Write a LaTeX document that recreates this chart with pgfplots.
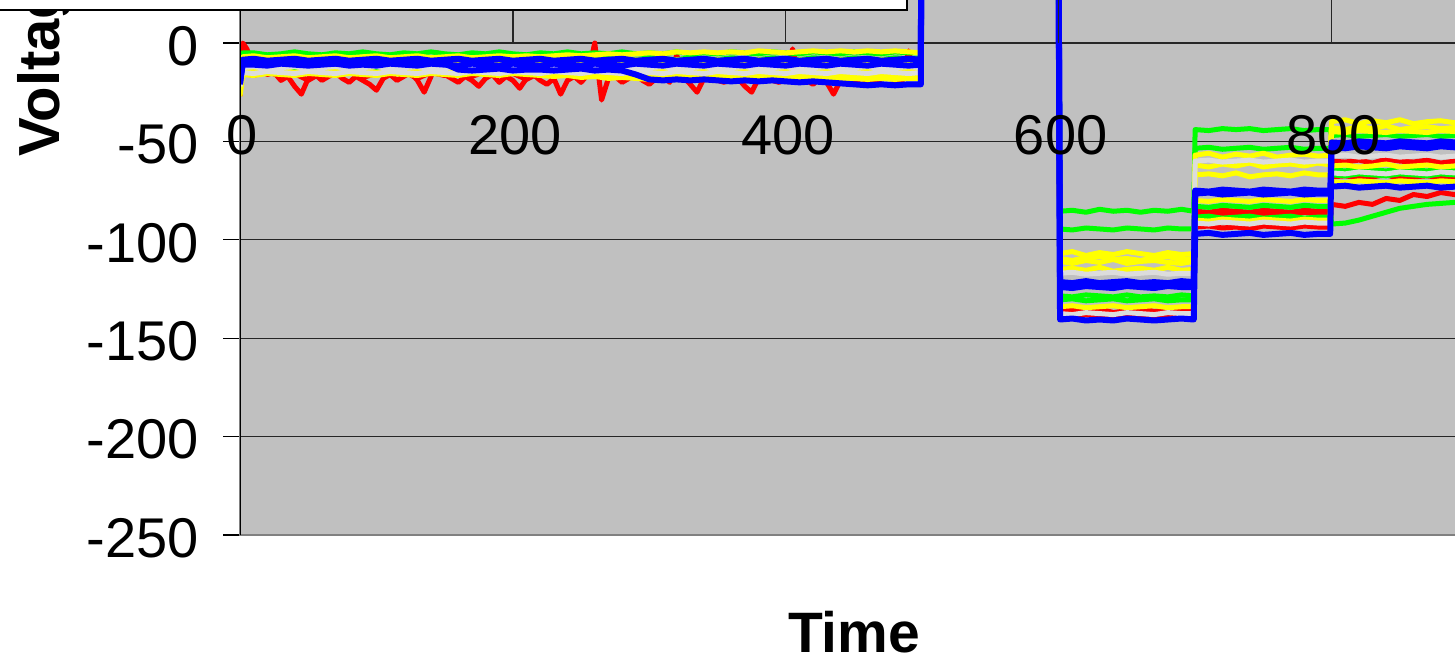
\documentclass[border=0pt]{standalone}
\usepackage{pgfplots}
\usepackage{pgfplotstable}
\pgfplotsset{compat=1.18}
\usepackage{fontspec}
\setmainfont{Liberation Sans}
\definecolor{bgGray}{HTML}{C0C0C0}
\definecolor{cR}{HTML}{FF0000}
\definecolor{cG}{HTML}{00FF00}
\definecolor{cY}{HTML}{FFFF00}
\definecolor{cB}{HTML}{0000FF}
\definecolor{cW}{HTML}{DCDCDC}
\pgfplotsset{
  common/.style={
    at={(240pt,121pt)}, anchor=south west,
    scale only axis, width=1228pt, height=984pt,
    xmin=0, xmax=900, ymin=-250, ymax=250,
    xtick={0,200,400,600,800},
    /pgf/number format/assume math mode=true,
    tick label style={font=\fontsize{56}{56}\selectfont, inner sep=0pt},
  }
}
\pgfplotstableread{
t R2 R3 G1 G2 G3 G4 Y1 Y2 Y3 Y4 Y5 W1 W2 B1 B2 B3
0 -22 -20 -14 -16 -18 -20 -24 -26 -22 -27 -20 -18 -22 -21 -19 -20
2 -15 -13 -5 -8 -12 -10 -7 -14 -12 -16 -9 -12.5 -15 -10 -11 -8.5
10 -16.5 -12.5 -5 -7.5 -12.5 -10.5 -6.5 -13.5 -12 -16.5 -9.5 -12 -15.5 -10.5 -11 -8
20 -14.5 -13.5 -6 -8.5 -11.5 -9.5 -7.5 -14.5 -12.5 -15.5 -8.5 -13 -14.5 -9.5 -11.5 -9
30 -17 -13 -5.5 -7.5 -12 -10 -7 -13.5 -11.5 -16 -9 -12.5 -15 -10 -10.5 -8.5
40 -15.5 -12 -4.5 -8 -12.5 -10.5 -6.5 -15 -12 -16.5 -9.5 -12 -15.5 -10.5 -11 -8
50 -19 -13.5 -5.5 -8.5 -11.5 -9.5 -7.5 -14 -12.5 -15.5 -8.5 -13 -14.5 -9.5 -11.5 -9
60 -15 -13 -6 -7.5 -12 -10 -7 -13.5 -12 -16 -9 -12.5 -15 -10 -11 -8.5
70 -16.5 -12.5 -5 -8 -12.5 -10.5 -6.5 -14.5 -11.5 -16.5 -9.5 -12 -15.5 -10.5 -10.5 -8
80 -14.5 -13.5 -5.5 -8.5 -11.5 -9.5 -7.5 -14 -12.5 -15.5 -8.5 -13 -14.5 -9.5 -11.5 -9
90 -17.5 -13 -4.5 -7.5 -12 -10 -7 -13.5 -12 -16 -9 -12.5 -15 -10 -11 -8.5
100 -15.5 -12 -5.5 -8 -12.5 -10.5 -6.5 -15 -11.5 -16.5 -9.5 -12 -15.5 -10.5 -11.5 -8
110 -16 -13.5 -6 -8.5 -11.5 -9.5 -7.5 -14 -12.5 -15.5 -8.5 -13 -14.5 -10 -10.5 -9
120 -14.5 -13 -5 -7.5 -12 -10 -7 -13.5 -12 -16 -9 -12.5 -15 -9.5 -11 -8.5
130 -18 -12.5 -5.5 -8 -12.5 -10.5 -6.5 -14.5 -11.5 -16.5 -9.5 -12 -15.5 -10.5 -11.5 -8
140 -15 -13.5 -4.5 -8.5 -11.5 -9.5 -7.5 -14 -12.5 -15.5 -8.5 -13 -14.5 -10 -10.5 -9
150 -16.5 -13 -5.5 -7.5 -12 -10 -7 -13.5 -12 -16 -9 -12.5 -15 -10.5 -11 -8.5
160 -15 -12 -6 -8 -12.5 -10.5 -6.5 -15 -11.5 -16.5 -9.5 -12 -15.5 -13.5 -11.5 -8
170 -17 -13.5 -5 -8.5 -11.5 -9.5 -7.5 -14 -12.5 -15.5 -8.5 -13 -14.5 -14 -10.5 -9
180 -14.5 -13 -5.5 -7.5 -12 -10 -7 -13.5 -12 -16 -9 -12.5 -15 -13.5 -11 -8.5
190 -16 -12.5 -4.5 -8 -12.5 -10.5 -6.5 -14.5 -11.5 -16.5 -9.5 -12 -15.5 -13 -11.5 -8
200 -15.5 -13.5 -5.5 -8.5 -11.5 -9.5 -7 -14 -12.5 -15.5 -8.5 -13 -14.5 -14 -10.5 -9
210 -18.5 -13 -6 -7.5 -12 -10 -6.5 -14.5 -12 -16 -9 -12.5 -15 -13.5 -11 -8.5
220 -15 -12 -5 -8 -12.5 -10.5 -7 -15 -12.5 -16.5 -9.5 -12 -15.5 -13.5 -11.5 -8
230 -16.5 -13.5 -5.5 -8.5 -11.5 -9.5 -6.5 -15.5 -13 -17 -8.5 -13 -14.5 -14 -10.5 -9
240 -14.5 -13 -4.5 -7.5 -12 -10 -6 -15 -12.5 -16.5 -9 -12.5 -15 -13.5 -11 -8.5
250 -17 -12.5 -5.5 -8 -12.5 -10.5 -6.5 -16 -13.5 -17.5 -9.5 -12 -15.5 -13 -11.5 -8
260 -15.5 -13.5 -5 -8.5 -11.5 -9.5 -6 -15.5 -13 -17 -8.5 -13 -14.5 -14 -10.5 -9
270 -16 -13 -5.5 -7.5 -12 -10 -5.5 -16.5 -14 -18 -9 -12.5 -15 -13.5 -11 -8.5
280 -15 -12 -4.5 -8 -12.5 -10.5 -6 -16 -13.5 -17.5 -9.5 -12 -15.5 -14 -11.5 -8
290 -18 -13.5 -5.5 -8.5 -11.5 -9.5 -5.5 -16.5 -14 -18 -8.5 -13 -14.5 -16 -10.5 -9
300 -15.5 -13 -5 -7.5 -12 -10 -5 -17 -14.5 -18.5 -9 -12.5 -15 -18.5 -11 -8.5
310 -16.5 -12.5 -5.5 -8 -12.5 -10.5 -5.5 -16.5 -14 -18 -9.5 -12 -15.5 -19 -11.5 -8
320 -15 -13.5 -4.5 -8.5 -11.5 -9.5 -4.5 -17 -14.5 -18.5 -8.5 -13 -14.5 -18.5 -10.5 -9
330 -17.5 -13 -5.5 -7.5 -12 -10 -5 -16.5 -14 -18 -9 -12.5 -15 -19 -11 -8.5
340 -15 -12 -5 -8 -12.5 -10.5 -4.5 -17 -14.5 -18.5 -9.5 -12 -15.5 -18.5 -11.5 -8
350 -16 -13.5 -5.5 -8.5 -11.5 -9.5 -5 -16.5 -14 -18 -8.5 -13 -14.5 -19 -10.5 -9
360 -14.5 -13 -4.5 -7.5 -12 -10 -4.5 -17 -14.5 -18.5 -9 -12.5 -15 -19.5 -11 -8.5
370 -17 -12.5 -5 -8 -12.5 -10.5 -5 -16.5 -14 -18 -9.5 -12 -15.5 -19 -11.5 -8
380 -15.5 -13.5 -5.5 -8.5 -11.5 -9.5 -4 -17 -14.5 -18.5 -8.5 -13 -14.5 -19.5 -10.5 -9
390 -16.5 -13 -4.5 -7.5 -12 -10 -4.5 -16.5 -14 -18 -9 -12.5 -15 -19 -11 -8.5
400 -15 -12 -5 -8 -12.5 -10.5 -5 -17 -14.5 -18.5 -9.5 -12 -15.5 -19.5 -11.5 -8
410 -18 -13.5 -5.5 -8.5 -11.5 -9.5 -4.5 -16.5 -14 -18 -8.5 -13 -14.5 -20 -10.5 -9
420 -15.5 -13 -4.5 -7.5 -12 -10 -4 -17 -14.5 -18.5 -9 -12.5 -15 -19.5 -11 -8.5
430 -16 -12.5 -5 -8 -12.5 -10.5 -4.5 -16.5 -14 -18 -9.5 -12 -15.5 -20 -11.5 -8
440 -14.5 -13.5 -5.5 -8.5 -11.5 -9.5 -4 -17 -14.5 -18.5 -8.5 -13 -14.5 -20.5 -10.5 -9
450 -17.5 -13 -4.5 -7.5 -12 -10 -4.5 -16.5 -14 -18 -9 -12.5 -15 -21 -11 -8.5
460 -15 -12 -5 -8 -12.5 -10.5 -4 -17 -14.5 -18.5 -9.5 -12 -15.5 -21.5 -11.5 -8
470 -16.5 -13.5 -5.5 -8.5 -11.5 -9.5 -4.5 -16.5 -14 -18 -8.5 -13 -14.5 -21 -10.5 -9
480 -15 -13 -4.5 -7.5 -12 -10 -4 -17 -14.5 -18.5 -9 -12.5 -15 -21.5 -11 -8.5
490 -16 -12.5 -5 -8 -12.5 -10.5 -4.5 -16.5 -14 -18 -9.5 -12 -15.5 -21 -11.5 -8
499 -15.5 -13 -5 -8 -12 -10 -5 -17 -14 -18 -9 -12.5 -15 -21 -11 -8.5
500 160 170 200 190 150 140 180 175 165 155 185 145 150 210 195 205
599 150 165 195 185 145 135 175 170 160 150 180 140 145 205 190 200
601 -136 -138.5 -85.5 -94.5 -128.5 -130.5 -107 -111 -115 -134 -109.5 -117 -137.5 -140.5 -121.5 -124
610 -135.5 -139 -85 -95 -129 -130 -106 -112 -114.5 -133.5 -110.5 -116.5 -138 -140 -122 -124.5
620 -136.5 -138 -86 -94 -128 -131 -108 -110.5 -115.5 -134.5 -109 -117.5 -137 -141 -121 -123.5
630 -135 -139 -84.5 -94.5 -128.5 -130.5 -106.5 -111.5 -114 -134 -108.5 -117 -137.5 -140.5 -122 -124
640 -137 -138.5 -85.5 -95 -129 -130 -107.5 -110 -116 -133.5 -110 -116.5 -138 -141 -121.5 -124.5
650 -136 -139.5 -85 -94 -128 -131 -106 -112 -115 -134.5 -109.5 -117.5 -137 -140 -121 -123.5
660 -134.5 -138 -86 -94.5 -129 -130.5 -107 -111 -114.5 -134 -110.5 -117 -137.5 -140.5 -122 -124
670 -136.5 -139 -85 -95 -128.5 -130 -108 -110.5 -115.5 -133.5 -109 -116.5 -138 -141 -121.5 -124.5
680 -135.5 -138.5 -85.5 -94 -129 -131 -106.5 -111.5 -114 -134.5 -108.5 -117.5 -137 -140.5 -122 -123.5
690 -136 -139 -84.5 -94.5 -128 -130.5 -107.5 -112 -115.5 -134 -110 -117 -137.5 -140 -121 -124
699 -136 -138.5 -85.5 -94.5 -128.5 -130.5 -107 -111 -115 -134 -109.5 -117 -137.5 -140.5 -121.5 -124
700 -87 -85.5 -44 -53.5 -83 -88.5 -57 -62 -67 -80 -90 -60 -91.5 -97 -75 -76.5
710 -86.5 -86 -44.5 -53 -83.5 -88 -56 -63 -66.5 -80.5 -90.5 -59.5 -92 -96.5 -75.5 -76
720 -87.5 -85 -43.5 -54 -82.5 -89 -58 -61.5 -67.5 -79.5 -89.5 -60.5 -91 -97.5 -74.5 -77
730 -86 -85.5 -44 -53.5 -83 -88.5 -56.5 -62.5 -66 -80 -90 -60 -91.5 -97 -75 -76.5
740 -88 -86 -43.5 -53 -83.5 -88 -57.5 -61 -68 -80.5 -90.5 -59.5 -92 -96.5 -75.5 -76
750 -87 -85 -44.5 -54 -82.5 -89 -56 -63 -67 -79.5 -89.5 -60.5 -91 -97.5 -74.5 -77
760 -86.5 -85.5 -44 -53.5 -83 -88.5 -58 -62 -66.5 -80 -90 -60 -91.5 -97 -75 -76.5
770 -87.5 -86 -43.5 -53 -83.5 -88 -57 -61.5 -67.5 -80.5 -90.5 -59.5 -92 -96.5 -75.5 -76
780 -86 -85 -44.5 -54 -82.5 -89 -56.5 -62.5 -66 -79.5 -89.5 -60.5 -91 -97.5 -74.5 -77
790 -87 -85.5 -44 -53.5 -83 -88.5 -57.5 -61 -67 -80 -90 -60 -91.5 -97 -75 -76.5
799 -87 -85.5 -44 -53.5 -83 -88.5 -57 -62 -67 -80 -90 -60 -91.5 -97 -75 -76.5
800 -60 -68 -47 -64.5 -92 -67 -40 -43 -62.5 -70.5 -45 -57.5 -66 -53 -73 -50.5
810 -60.5 -67.5 -46.5 -65 -91.5 -67.5 -39 -44 -62 -71 -45.5 -57 -66.5 -53.5 -72.5 -51
820 -59.5 -68.5 -47.5 -64 -90 -66.5 -41 -42.5 -63 -70 -44.5 -58 -65.5 -52.5 -73.5 -50
830 -61 -68 -47 -64.5 -88 -67 -39.5 -43.5 -62.5 -70.5 -45 -57.5 -66 -53 -73 -50.5
840 -59 -67 -46.5 -65 -86 -67.5 -40.5 -42 -61.5 -71 -45.5 -57 -66.5 -53.5 -72.5 -51
850 -60 -69 -47.5 -64 -84 -66.5 -39 -44 -63 -70 -44.5 -58 -65.5 -52.5 -73.5 -50
860 -60.5 -68 -47 -64.5 -83 -67 -41 -43 -62.5 -70.5 -45 -57.5 -66 -53 -73 -50.5
870 -59.5 -67.5 -46.5 -65 -82 -67.5 -40 -42.5 -62 -71 -45.5 -57 -66.5 -53.5 -72.5 -51
880 -61 -68.5 -47.5 -64 -81.5 -66.5 -39.5 -43.5 -63 -70 -44.5 -58 -65.5 -52.5 -73.5 -50
890 -60 -68 -47 -64.5 -81 -67 -40.5 -43 -62.5 -70.5 -45 -57.5 -66 -53 -73 -50.5
900 -60.5 -67.5 -46.5 -65 -81.5 -67.5 -40 -42.5 -62 -71 -45.5 -57 -66.5 -53.5 -72.5 -51
}\data
\begin{document}
\begin{tikzpicture}
\useasboundingbox (0,0) rectangle (1455pt,656pt);
\clip (0,0) rectangle (1455pt,656pt);
\begin{axis}[
  common,
  xticklabels={},
  ytick={-250,-200,-150,-100,-50,0,50,100,150,200,250},
  axis background/.style={fill=bgGray},
  axis line style={draw=black!50, line width=2pt},
  ymajorgrids,
  grid style={draw=black!85, line width=1.4pt},
  tick align=outside,
  major tick length=17pt,
  ytick pos=left,
  xtick style={draw=none},
  ytick style={draw=black, line width=1.4pt},
  yticklabel style={anchor=east, xshift=-24pt, yshift=-3pt},
  every axis x label/.style={at={(rel axis cs:0.5,0)}, anchor=base, yshift=-117pt, inner sep=0pt, font=\fontsize{57}{57}\selectfont\bfseries},
  every axis y label/.style={at={(rel axis cs:0,0.5)}, rotate=90, anchor=base, yshift=180pt, xshift=-11pt, inner sep=0pt, font=\fontsize{58}{58}\selectfont\bfseries},
  xlabel={Time}, ylabel={Voltage},
  every axis plot/.append style={line join=round, line width=5pt},
]
\addplot[cR] coordinates {(0,-27) (2,0) (5,-3) (10,-12) (15,-14) (20,-16) (25,-15) (30,-19) (35,-17) (40,-22) (45,-26) (50,-18) (55,-16) (60,-19) (65,-17) (70,-15) (75,-18) (80,-20) (85,-17) (90,-19) (95,-21) (100,-24) (105,-18) (110,-16) (115,-19) (120,-17) (125,-15) (130,-19) (135,-25) (140,-17) (145,-5) (150,-16) (155,-18) (160,-20) (165,-17) (170,-19) (175,-22) (180,-18) (185,-16) (190,-20) (195,-17) (200,-19) (205,-23) (210,-18) (215,-16) (220,-19) (225,-21) (230,-18) (235,-26) (240,-19) (245,-17) (250,-20) (255,-16) (260,0) (265,-29) (270,-18) (275,-17) (280,-20) (285,-18) (290,-16) (295,-19) (300,-21) (305,-18) (310,-17) (315,-20) (320,-6) (325,-17) (330,-21) (335,-25) (340,-18) (345,-16) (350,-19) (355,-20) (360,-17) (365,-18) (370,-22) (375,-25) (380,-18) (385,-17) (390,-19) (395,-20) (400,-18) (405,-3) (410,-17) (415,-19) (420,-21) (425,-18) (430,-20) (435,-26) (440,-19) (445,-17) (450,-20) (455,-18) (460,-19) (465,-21) (470,-18) (475,-17) (480,-19) (485,-20) (490,-4) (495,-18) (499,-18) (500,170) (599,165) (601,-137) (610,-136.5) (620,-137.5) (630,-136) (640,-137) (650,-138) (660,-136.5) (670,-137) (680,-136) (690,-137.5) (699,-137) (700,-93.5) (710,-93) (720,-94) (730,-93.5) (740,-94.5) (750,-93) (760,-93.5) (770,-94) (780,-93) (790,-93.5) (799,-93.5) (800,-82) (810,-83) (820,-81) (830,-82) (840,-79) (850,-80) (860,-77) (870,-78) (880,-76) (890,-77) (900,-76)};
\addplot[cR] table[x=t,y=R2] {\data};
\addplot[cR] table[x=t,y=R3] {\data};
\addplot[cG] table[x=t,y=G1] {\data};
\addplot[cG] table[x=t,y=G2] {\data};
\addplot[cG] table[x=t,y=G3] {\data};
\addplot[cG] table[x=t,y=G4] {\data};
\addplot[cY] table[x=t,y=Y1] {\data};
\addplot[cY] table[x=t,y=Y2] {\data};
\addplot[cY] table[x=t,y=Y3] {\data};
\addplot[cY] table[x=t,y=Y4] {\data};
\addplot[cY] table[x=t,y=Y5] {\data};
\addplot[cW] table[x=t,y=W1] {\data};
\addplot[cW] table[x=t,y=W2] {\data};
\addplot[cB, line width=6pt] table[x=t,y=B1] {\data};
\addplot[cB, line width=6pt] table[x=t,y=B2] {\data};
\addplot[cB, line width=6pt] table[x=t,y=B3] {\data};
\draw[black!85, line width=1.4pt] (axis cs:200,0) -- ++(0,-12pt);
\draw[black!85, line width=1.4pt] (axis cs:400,0) -- ++(0,-12pt);
\draw[black!85, line width=1.4pt] (axis cs:600,0) -- ++(0,-12pt);
\draw[black!85, line width=1.4pt] (axis cs:800,0) -- ++(0,-12pt);
\draw[black, line width=1.6pt] (rel axis cs:0,0) -- (rel axis cs:0,1);
\end{axis}
\begin{axis}[
  common,
  axis line style={draw=none},
  ytick=\empty,
  xtick style={draw=none},
  xticklabel style={anchor=center, yshift=400pt, xshift=2pt},
]
\end{axis}
\draw[black, line width=1.5pt, fill=white] (-10pt,646pt) rectangle (907pt,720pt);
\end{tikzpicture}
\end{document}
